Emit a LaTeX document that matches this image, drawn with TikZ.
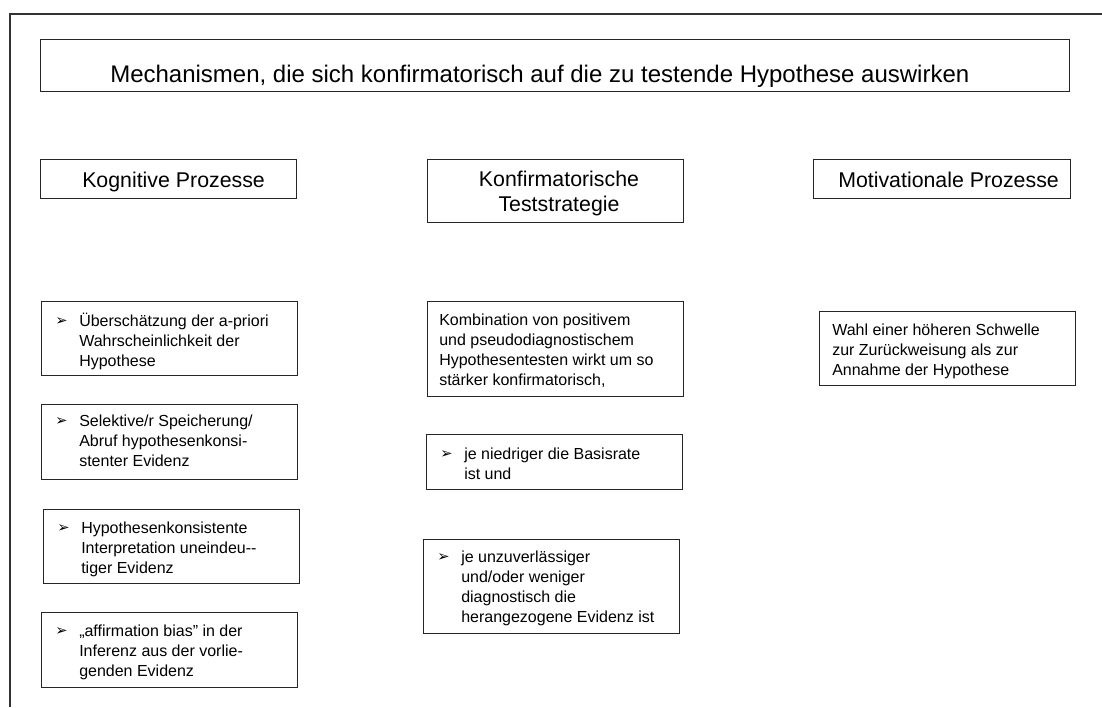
\documentclass[tikz,border=0pt]{standalone}
\usepackage{fontspec}
\setmainfont{Liberation Sans}
\newfontfamily\dingfont{DejaVu Sans}
\usetikzlibrary{calc}
% arrowhead bullet and the two kinds of item text
\newcommand\arrbul{\raisebox{0.5pt}{\dingfont\fontsize{11pt}{11pt}\selectfont ➢}}
\newcommand\bulleted[1]{\makebox[18pt][l]{\arrbul}\begin{tabular}[t]{@{}l@{}}#1\end{tabular}}
\newcommand\plainlines[1]{\begin{tabular}[t]{@{}l@{}}#1\end{tabular}}
\begin{document}
\begin{tikzpicture}[x=0.75pt,y=-0.75pt,
  frame/.style={draw=black!80, line width=0.8pt},
  box/.style 2 args={draw=black!85, line width=0.8pt, inner sep=0pt, anchor=north west,
    minimum width=#1*0.75pt, minimum height=#2*0.75pt},
  txt/.style={inner sep=0pt, anchor=base west, font=\fontsize{12pt}{15pt}\selectfont},
  head/.style={inner sep=0pt, anchor=base west, font=\fontsize{16pt}{18.75pt}\selectfont},
  titlefont/.style={inner sep=0pt, anchor=base west, font=\fontsize{18pt}{21pt}\selectfont},
]
\useasboundingbox (0,0) rectangle (1102,707);

% open outer frame
\coordinate (tr) at (1102,14);
\coordinate (tl) at (10,14);
\coordinate (bl) at (10,707);
\draw[frame] (tr) -- (tl) -- (bl);

% title
\node[box={1029}{52}] (title) at (40,39) {};
\node[titlefont] (titletext) at ($(title.north west)+(70,43)$)
  {Mechanismen, die sich konfirmatorisch auf die zu testende Hypothese auswirken};

% column headers
\node[box={256}{39}] (h1) at (40,159) {};
\node[head] (h1text) at ($(h1.north west)+(42,28.7)$) {Kognitive Prozesse};
\node[box={256}{63}] (h2) at (427,159) {};
\node[head, anchor=base] (h2text) at ($(h2.north west)+(132,27.7)$)
  {\begin{tabular}[t]{@{}c@{}}Konfirmatorische\\Teststrategie\end{tabular}};
\node[box={257}{39}] (h3) at (813,159) {};
\node[head] (h3text) at ($(h3.north west)+(25,28.7)$) {Motivationale Prozesse};

% cognitive processes
\node[box={256}{74}] (l1) at (41,301) {};
\node[txt] (l1text) at ($(l1.north west)+(14,25)$)
  {\bulleted{Überschätzung der a-priori\\Wahrscheinlichkeit der\\Hypothese}};
\node[box={256}{75}] (l2) at (41,404) {};
\node[txt] (l2text) at ($(l2.north west)+(14,22)$)
  {\bulleted{Selektive/r Speicherung/\\Abruf hypothesenkonsi-\\stenter Evidenz}};
\node[box={256}{74}] (l3) at (43,509) {};
\node[txt] (l3text) at ($(l3.north west)+(14,24)$)
  {\bulleted{Hypothesenkonsistente\\Interpretation uneindeu-{}-\\tiger Evidenz}};
\node[box={256}{75}] (l4) at (41,612) {};
\node[txt] (l4text) at ($(l4.north west)+(14,24)$)
  {\bulleted{„affirmation bias” in der\\Inferenz aus der vorlie-\\genden Evidenz}};

% confirmatory test strategy
\node[box={256}{95}] (m1) at (427,301) {};
\node[txt] (m1text) at ($(m1.north west)+(12,24)$)
  {\plainlines{Kombination von positivem\\und pseudodiagnostischem\\Hypothesentesten wirkt um so\\stärker konfirmatorisch,}};
\node[box={256}{55}] (m2) at (426,434) {};
\node[txt] (m2text) at ($(m2.north west)+(14,25)$)
  {\bulleted{je niedriger die Basisrate\\ist und}};
\node[box={256}{94}] (m3) at (423,539) {};
\node[txt] (m3text) at ($(m3.north west)+(14,23)$)
  {\bulleted{je unzuverlässiger\\und/oder weniger\\diagnostisch die\\herangezogene Evidenz ist}};

% motivational processes
\node[box={256}{74}] (r1) at (819,311) {};
\node[txt] (r1text) at ($(r1.north west)+(13,24)$)
  {\plainlines{Wahl einer höheren Schwelle\\zur Zurückweisung als zur\\Annahme der Hypothese}};
\end{tikzpicture}
\end{document}
